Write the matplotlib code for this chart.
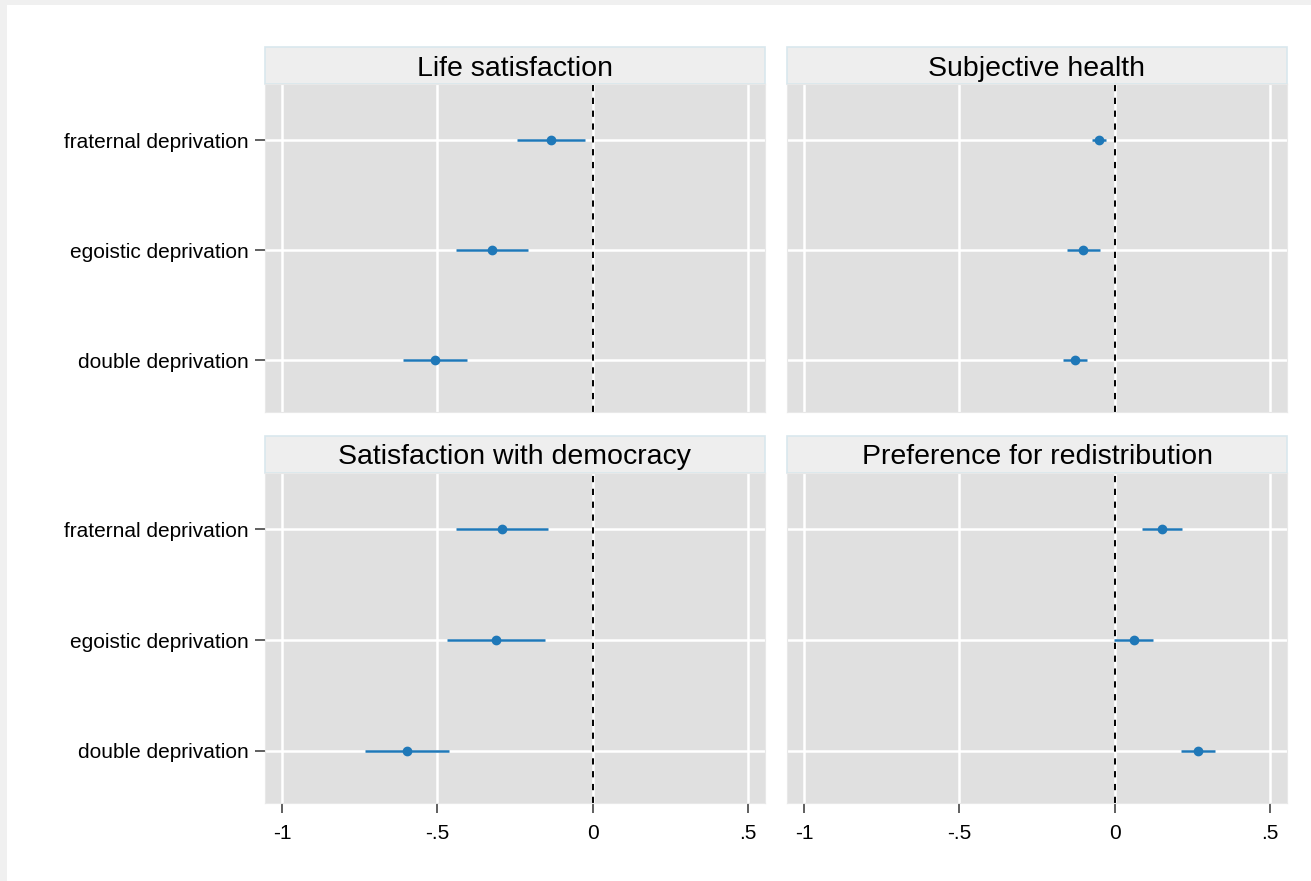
import matplotlib.pyplot as plt
from matplotlib.patches import Rectangle

plt.rcParams['font.family'] = ['Liberation Sans', 'DejaVu Sans']

# outcomes (panels) and deprivation types (rows, top to bottom)
outcomes = ["Life satisfaction", "Subjective health",
            "Satisfaction with democracy", "Preference for redistribution"]
types = ["fraternal deprivation", "egoistic deprivation", "double deprivation"]

# point estimates and 95% CI bounds, same order as types
life_coef = [-0.135, -0.325, -0.508]
life_lo = [-0.244, -0.440, -0.611]
life_hi = [-0.026, -0.209, -0.405]

health_coef = [-0.050, -0.101, -0.128]
health_lo = [-0.074, -0.154, -0.166]
health_hi = [-0.027, -0.048, -0.090]

democ_coef = [-0.293, -0.312, -0.597]
democ_lo = [-0.440, -0.469, -0.732]
democ_hi = [-0.145, -0.154, -0.461]

redis_coef = [0.153, 0.061, 0.269]
redis_lo = [0.087, -0.003, 0.213]
redis_hi = [0.218, 0.124, 0.324]

xticks = [-1, -0.5, 0, 0.5]
xticklabels = ["-1", "-.5", "0", ".5"]

results = [(life_coef, life_lo, life_hi), (health_coef, health_lo, health_hi),
           (democ_coef, democ_lo, democ_hi), (redis_coef, redis_lo, redis_hi)]

W, H = 1311, 881
fig = plt.figure(figsize=(W / 100, H / 100), dpi=100)
fig.patch.set_facecolor("white")

# grey screen margin along top and left
fig.patches.append(Rectangle((0, 1 - 5 / H), 1, 5 / H, transform=fig.transFigure,
                             facecolor="#f0f0f0", edgecolor="none", zorder=0))
fig.patches.append(Rectangle((0, 0), 7 / W, 1, transform=fig.transFigure,
                             facecolor="#f0f0f0", edgecolor="none", zorder=0))

cols = [(265, 765), (787, 1287)]
rows = [(84, 412), (473, 803)]
blue = "#1f78b8"
ypos = [3, 2, 1]

for i, (name, (coef, lo, hi)) in enumerate(zip(outcomes, results)):
    r, c = divmod(i, 2)
    x0, x1 = cols[c]
    y0, y1 = rows[r]
    ph = y1 - y0
    ax = fig.add_axes([x0 / W, 1 - y1 / H, (x1 - x0) / W, ph / H])
    ax.set_facecolor("#e0e0e0")
    for s in ax.spines.values():
        s.set_color("#e8e8e8")
        s.set_linewidth(0.8)

    ax.set_xlim(-1.055, 0.555)
    ax.set_ylim(0.53, 3.51)

    for xv in xticks:
        ax.axvline(xv, color="white", lw=1.8, zorder=1)
    for yv in ypos:
        ax.axhline(yv, color="white", lw=1.8, zorder=1)
    ax.axvline(0, color="black", lw=1.4, linestyle=(0, (3.2, 3.4)), zorder=2)

    ax.hlines(ypos, lo, hi, color=blue, lw=1.8, zorder=3)
    ax.plot(coef, ypos, "o", color=blue, ms=6, zorder=4)

    ax.set_xticks(xticks)
    ax.set_yticks(ypos)
    if r == 1:
        ax.set_xticklabels(xticklabels, fontsize=15)
        ax.tick_params(axis="x", length=7, width=1.2, color="#444444", pad=8)
    else:
        ax.tick_params(axis="x", length=0, labelbottom=False)
    if c == 0:
        ax.set_yticklabels(types, fontsize=15)
        ax.tick_params(axis="y", length=7, width=1.2, color="#444444", pad=5)
    else:
        ax.tick_params(axis="y", length=0, labelleft=False)

    # facet strip
    sh = 37 / ph
    ax.add_patch(Rectangle((0, 1), 1, sh, transform=ax.transAxes, clip_on=False,
                           facecolor="#eeeeee", edgecolor="#d9e7ed", lw=1.2))
    ax.text(0.5, 1 + sh / 2 - 3 / ph, name, transform=ax.transAxes, ha="center",
            va="center", fontsize=20.5, color="black")

fig.savefig("out.png", dpi=100)
